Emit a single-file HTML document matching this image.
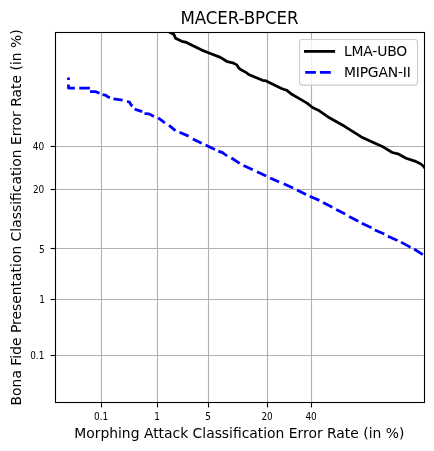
<!DOCTYPE html>
<html><head><meta charset="utf-8"><title>MACER-BPCER</title>
<style>
html,body{margin:0;padding:0;background:#fff;}
svg{display:block;font-family:"DejaVu Sans","Liberation Sans",sans-serif;fill:#000;}
.t{font-size:16.67px;text-anchor:middle;}
.l{font-size:13.89px;}
.k{font-size:9.72px;}
</style></head><body>
<svg width="434" height="451" viewBox="0 0 434 451">
<rect width="434" height="451" fill="#fff"/>
<defs><clipPath id="c"><rect x="55.5" y="32.5" width="369.0" height="370.0"/></clipPath></defs>
<g stroke="#b0b0b0" stroke-width="1.1" fill="none">
<line x1="101.5" y1="32.5" x2="101.5" y2="402.5"/>
<line x1="157.5" y1="32.5" x2="157.5" y2="402.5"/>
<line x1="208.5" y1="32.5" x2="208.5" y2="402.5"/>
<line x1="267.5" y1="32.5" x2="267.5" y2="402.5"/>
<line x1="311.5" y1="32.5" x2="311.5" y2="402.5"/>
<line x1="55.5" y1="355.5" x2="424.5" y2="355.5"/>
<line x1="55.5" y1="299.5" x2="424.5" y2="299.5"/>
<line x1="55.5" y1="248.5" x2="424.5" y2="248.5"/>
<line x1="55.5" y1="189.5" x2="424.5" y2="189.5"/>
<line x1="55.5" y1="146.5" x2="424.5" y2="146.5"/>
</g>
<g stroke="#000" stroke-width="1.1" fill="none">
<line x1="101.5" y1="402.5" x2="101.5" y2="407.4"/>
<line x1="157.5" y1="402.5" x2="157.5" y2="407.4"/>
<line x1="208.5" y1="402.5" x2="208.5" y2="407.4"/>
<line x1="267.5" y1="402.5" x2="267.5" y2="407.4"/>
<line x1="311.5" y1="402.5" x2="311.5" y2="407.4"/>
<line x1="55.5" y1="355.5" x2="50.6" y2="355.5"/>
<line x1="55.5" y1="299.5" x2="50.6" y2="299.5"/>
<line x1="55.5" y1="248.5" x2="50.6" y2="248.5"/>
<line x1="55.5" y1="189.5" x2="50.6" y2="189.5"/>
<line x1="55.5" y1="146.5" x2="50.6" y2="146.5"/>
</g>
<g clip-path="url(#c)" fill="none" stroke-linejoin="round">
<polyline stroke="#000" stroke-width="2.78" stroke-linecap="square" points="167.7,31.0 169.3,32.1 173.9,34.4 175.5,38.2 181.8,41.3 186.5,42.4 192.5,45.6 201.8,50.1 208.4,52.7 220.4,57.4 226.6,61.3 233.5,63.1 236.8,64.9 238.6,67.9 240.5,69.5 245.9,72.4 249.3,74.8 262.5,80.3 266.2,80.9 273.8,84.7 282.1,88.7 286.6,90.2 291.8,94.3 301.5,99.9 307.0,103.1 312.5,107.5 318.3,110.2 329.4,117.8 344.6,126.3 361.3,136.9 376.1,143.8 383.4,147.1 392.3,152.5 397.9,153.8 406.0,158.2 414.8,161.1 420.5,163.8 423.5,166.3 424.5,167.6"/>
<g stroke="#0000ff" stroke-width="2.78" stroke-linecap="butt">
<polyline points="68.5,77.4 68.5,80.1"/>
<polyline points="68.5,84.6 68.5,88.1 74.9,88.1"/>
<polyline points="79.3,88.2 89.9,88.2"/>
<polyline points="90.0,91.7 95.4,91.6 99.5,93.3"/>
<polyline points="102.6,94.6 106.2,95.4 107.6,96.8 110.0,97.3"/>
<polyline points="113.5,98.8 122.6,100.2"/>
<polyline points="127.0,101.3 129.7,102.3 131.1,105.0 132.5,106.0"/>
<polyline points="134.6,109.2 142.2,111.6"/>
<polyline points="144.5,113.6 149.1,113.9 153.9,116.5"/>
<polyline points="158.2,117.8 164.9,122.8"/>
<polyline points="169.0,125.4 175.5,130.7"/>
<polyline points="179.5,132.2 188.6,136.1"/>
<polyline points="192.8,139.0 201.7,143.2"/>
<polyline points="205.6,145.1 214.9,149.4"/>
<polyline points="218.3,151.1 222.5,152.6 227.1,156.0"/>
<polyline points="231.4,158.0 239.7,163.4"/>
<polyline points="243.5,165.6 252.8,169.8"/>
<polyline points="257.0,171.7 266.2,176.0"/>
<polyline points="270.1,178.1 279.1,182.1"/>
<polyline points="283.7,183.8 293.1,188.0"/>
<polyline points="297.0,190.0 306.0,194.6"/>
<polyline points="309.7,196.3 319.4,200.4"/>
<polyline points="323.1,202.5 332.3,207.3"/>
<polyline points="336.2,209.5 345.2,214.1"/>
<polyline points="349.1,216.4 358.3,221.3"/>
<polyline points="361.8,223.3 371.5,227.8"/>
<polyline points="374.8,230.0 384.3,234.0"/>
<polyline points="387.9,236.2 397.5,240.5"/>
<polyline points="401.0,242.1 410.6,247.4"/>
<polyline points="414.1,249.0 422.8,254.6"/>
</g></g>
<rect x="55.5" y="32.5" width="369.0" height="370.0" fill="none" stroke="#000" stroke-width="1.1"/>
<text class="k" transform="translate(101.1 420.2) scale(0.92 1.04)" text-anchor="middle">0.1</text>
<text class="k" transform="translate(157.1 420.2) scale(0.92 1.04)" text-anchor="middle">1</text>
<text class="k" transform="translate(208.1 420.2) scale(0.92 1.04)" text-anchor="middle">5</text>
<text class="k" transform="translate(267.1 420.2) scale(0.92 1.04)" text-anchor="middle">20</text>
<text class="k" transform="translate(311.1 420.2) scale(0.92 1.04)" text-anchor="middle">40</text>
<text class="k" transform="translate(44.40 359.2) scale(0.92 1.04)" text-anchor="end">0.1</text>
<text class="k" transform="translate(45.00 303.2) scale(0.92 1.04)" text-anchor="end">1</text>
<text class="k" transform="translate(44.75 253.2) scale(0.92 1.04)" text-anchor="end">5</text>
<text class="k" transform="translate(44.30 193.2) scale(0.92 1.04)" text-anchor="end">20</text>
<text class="k" transform="translate(44.25 150.2) scale(0.92 1.04)" text-anchor="end">40</text>
<text class="t" transform="translate(239.5 24.0) scale(1 1.045)" textLength="118.2" lengthAdjust="spacing">MACER-BPCER</text>
<text class="l" x="239.3" y="437.8" text-anchor="middle">Morphing Attack Classification Error Rate (in %)</text>
<text class="l" transform="translate(21.0 217.4) rotate(-90)" text-anchor="middle" textLength="376.1" lengthAdjust="spacing">Bona Fide Presentation Classification Error Rate (in %)</text>
<rect x="299.5" y="39.5" width="118" height="45.6" rx="2.8" ry="2.8" fill="#fff" fill-opacity="0.8" stroke="#cccccc" stroke-width="1.1"/>
<line x1="304" y1="51.4" x2="335.1" y2="51.4" stroke="#000" stroke-width="2.78"/>
<path d="M305.2 72.3H315.9M319.9 72.3H330.8" stroke="#0000ff" stroke-width="2.78"/>
<text class="l" transform="translate(343.9 56.3) scale(1 1.04)" textLength="63.4" lengthAdjust="spacing">LMA-UBO</text>
<text class="l" transform="translate(343.9 77.4) scale(1 1.03)" textLength="67.0" lengthAdjust="spacing">MIPGAN-II</text>
</svg></body></html>
